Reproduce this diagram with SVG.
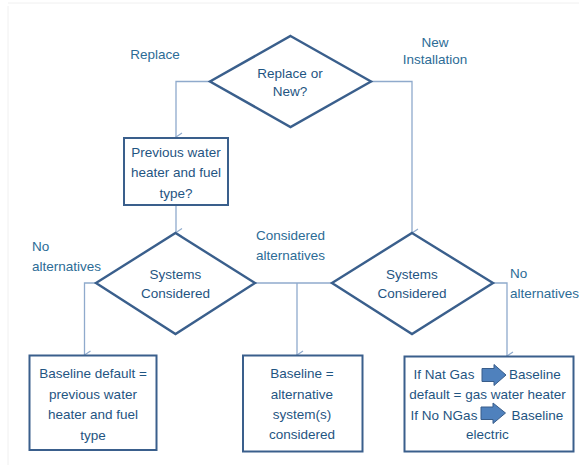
<svg xmlns="http://www.w3.org/2000/svg" width="579" height="465" viewBox="0 0 579 465">
<defs>
<style>
.dia{fill:#fff;stroke:#3A5F8C;stroke-width:2.4}
.box{fill:#fff;stroke:#3A5F8C;stroke-width:2}
.con{fill:none;stroke:#8FAACC;stroke-width:1.3}
.t{font-family:"Liberation Sans",Arial,sans-serif;font-size:13.5px;fill:#1F5582;text-anchor:middle}
.lbl{font-family:"Liberation Sans",Arial,sans-serif;font-size:13.5px;fill:#2C6C96}
.blk{fill:#4F81BD;stroke:#385D8A;stroke-width:1}
</style>
<marker id="ah" markerUnits="userSpaceOnUse" markerWidth="12" markerHeight="10" refX="5" refY="7" orient="auto-start-reverse" viewBox="0 0 10 10">
<path d="M1,1 L5,7 L9,1" fill="none" stroke="#8FAACC" stroke-width="1.2"/>
</marker>
</defs>
<rect width="579" height="465" fill="#fff"/>
<path d="M8,6 V465 M8,3 H579" stroke="#F0F0F0" stroke-width="1" fill="none"/>

<g id="connectors">
<path class="con" d="M210,81.5 H176 V137" marker-end="url(#ah)"/>
<path class="con" d="M371,81.5 H412 V233" marker-end="url(#ah)"/>
<path class="con" d="M176,205 V232.5" marker-end="url(#ah)"/>
<path class="con" d="M96,283 H84.5 V355" marker-end="url(#ah)"/>
<path class="con" d="M255,283 H332"/>
<path class="con" d="M297,283 V355" marker-end="url(#ah)"/>
<path class="con" d="M493,283 H507 V356" marker-end="url(#ah)"/>
</g>

<g id="labels">
<text class="lbl" x="155" y="59" text-anchor="middle">Replace</text>
<text class="lbl" x="435" y="47" text-anchor="middle">New</text>
<text class="lbl" x="435" y="64" text-anchor="middle">Installation</text>
<text class="lbl" x="32" y="251">No</text>
<text class="lbl" x="32" y="271">alternatives</text>
<text class="lbl" x="290.5" y="240" text-anchor="middle">Considered</text>
<text class="lbl" x="290.5" y="260" text-anchor="middle">alternatives</text>
<text class="lbl" x="510" y="278">No</text>
<text class="lbl" x="510" y="298">alternatives</text>
</g>

<g id="d-replace">
<polygon class="dia" points="290.5,36 371,81.5 290.5,127 210,81.5"/>
<text class="t" x="290" y="77.5">Replace or</text>
<text class="t" x="290" y="96">New?</text>
</g>

<g id="b-previous">
<rect class="box" x="124" y="138" width="104" height="67"/>
<text class="t" x="176" y="156.5">Previous water</text>
<text class="t" x="176" y="177">heater and fuel</text>
<text class="t" x="176" y="198">type?</text>
</g>

<g id="d-systems-left">
<polygon class="dia" points="175.5,233 255,283 175.5,334 96,283"/>
<text class="t" x="175.5" y="279">Systems</text>
<text class="t" x="175.5" y="298">Considered</text>
</g>

<g id="d-systems-right">
<polygon class="dia" points="412,233 493,283 412,334 332,283"/>
<text class="t" x="412" y="279">Systems</text>
<text class="t" x="412" y="298">Considered</text>
</g>

<g id="b-default">
<rect class="box" x="29.5" y="355.5" width="127" height="94.5"/>
<text class="t" x="93" y="378">Baseline default =</text>
<text class="t" x="93" y="399">previous water</text>
<text class="t" x="93" y="419">heater and fuel</text>
<text class="t" x="93" y="440">type</text>
</g>

<g id="b-alternative">
<rect class="box" x="243" y="355.5" width="119.5" height="96"/>
<text class="t" x="302" y="378">Baseline =</text>
<text class="t" x="302" y="398.5">alternative</text>
<text class="t" x="302" y="419">system(s)</text>
<text class="t" x="302" y="439">considered</text>
</g>

<g id="b-newinstall">
<rect class="box" x="404.5" y="356.5" width="169" height="95"/>
<text class="t" x="444" y="379">If Nat Gas</text>
<text class="t" x="535" y="379">Baseline</text>
<text class="t" x="487.5" y="399">default = gas water heater</text>
<text class="t" x="444" y="420">If No NGas</text>
<text class="t" x="537.5" y="420">Baseline</text>
<text class="t" x="487.5" y="439">electric</text>
<path class="blk" d="M482,368.5 H494 V364.5 L506,375 L494,385.5 V381.5 H482 Z"/>
<path class="blk" d="M481,407 H493 V403 L505.5,413 L493,423.5 V419.5 H481 Z"/>
</g>
</svg>
